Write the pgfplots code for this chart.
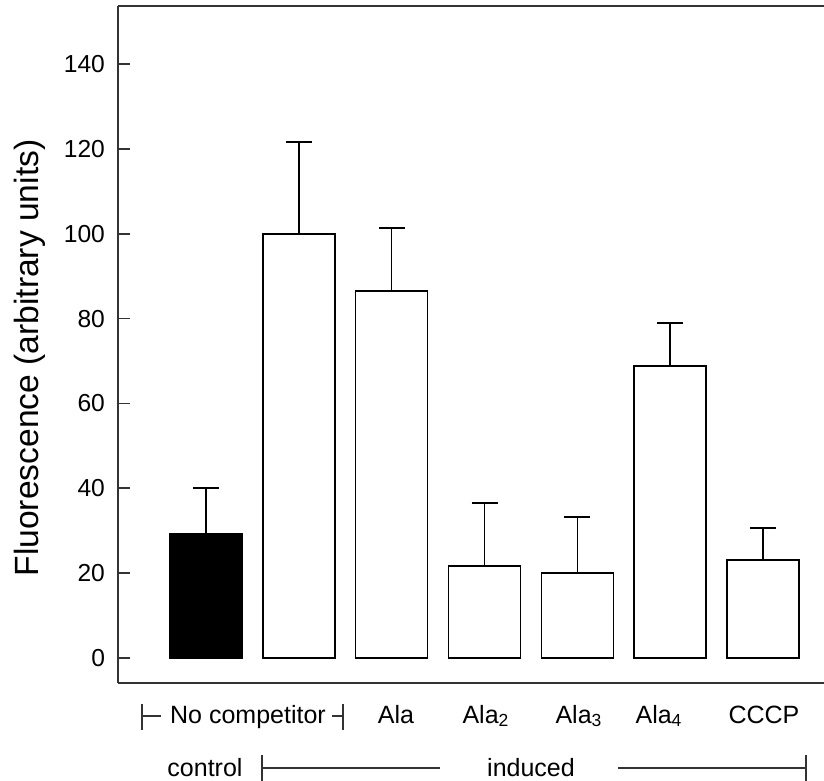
\documentclass[border=0pt]{standalone}
\usepackage{fontspec}
\setmainfont{Liberation Sans}
\usepackage{pgfplots}
\pgfplotsset{compat=1.18}

\definecolor{frame}{HTML}{333333}

\begin{document}
\begin{tikzpicture}
\begin{axis}[
    scale only axis,
    width=353pt, height=338.5pt,
    xmin=-0.948, xmax=6.657,
    ymin=-5.9, ymax=153.7,
    axis x line*=bottom,
    axis y line*=left,
    axis line style={frame, line width=1pt},
    xtick=\empty,
    ytick={0,20,...,140},
    tick align=inside,
    major tick length=6pt,
    tick style={frame, line width=0.8pt},
    /pgf/number format/assume math mode=true,
    ticklabel style={font=\fontsize{12.3}{14}\selectfont},
    yticklabel style={xshift=-3pt},
    ybar, bar width=36pt, bar shift=0pt,
    clip=false,
]
\addplot[fill=black, draw=black, line width=0.8pt,
    error bars/.cd, y dir=plus, y explicit,
    error bar style={line width=0.8pt, black},
    error mark options={rotate=90, mark size=6.5pt, line width=0.8pt, black}]
    coordinates {(0,29.2) +- (0,10.9)};
\addplot[fill=white, draw=black, line width=0.8pt,
    error bars/.cd, y dir=plus, y explicit,
    error bar style={line width=0.8pt, black},
    error mark options={rotate=90, mark size=6.5pt, line width=0.8pt, black}]
    coordinates {
    (1,99.9) +- (0,21.7)
    (2,86.5) +- (0,14.8)
    (3,21.7) +- (0,14.8)
    (4,20.0) +- (0,13.2)
    (5,68.8) +- (0,10.2)
    (6,23.1) +- (0,7.5)
    };
\draw[frame, line width=1pt] (rel axis cs:0,1) -- (rel axis cs:1,1);
\coordinate (O) at (rel axis cs:0,0);
\end{axis}

% labels below the axis, in pixel offsets from the lower left corner
\begin{scope}[shift={(O)}, x=0.5pt, y=-0.5pt]
  \node[rotate=90, font=\fontsize{16.8}{19}\selectfont] at (-88,-325)
    {Fluorescence (arbitrary units)};
  \begin{scope}[font=\fontsize{12.5}{15}\selectfont, every node/.style={anchor=base}]
    \draw[frame, line width=0.7pt] (24,21) -- (24,47) (24,33) -- (43,33);
    \node at (130,40) {No competitor};
    \draw[frame, line width=0.7pt] (214,33) -- (225,33) (225,21) -- (225,47);
    \node at (278,40) {Ala};
    \node at (368,40) {Ala\textsubscript{2}};
    \node at (461,40) {Ala\textsubscript{3}};
    \node at (541,40) {Ala\textsubscript{4}};
    \node at (646,40) {CCCP};
    \node at (87,93) {control};
    \draw[frame, line width=0.7pt] (144,72) -- (144,98) (144,85) -- (322,85);
    \node at (413,93) {induced};
    \draw[frame, line width=0.7pt] (500,85) -- (688,85) (688,72) -- (688,98);
  \end{scope}
  \pgfresetboundingbox
  \useasboundingbox (-118,-683) rectangle (706,98);
\end{scope}
\end{tikzpicture}
\end{document}
